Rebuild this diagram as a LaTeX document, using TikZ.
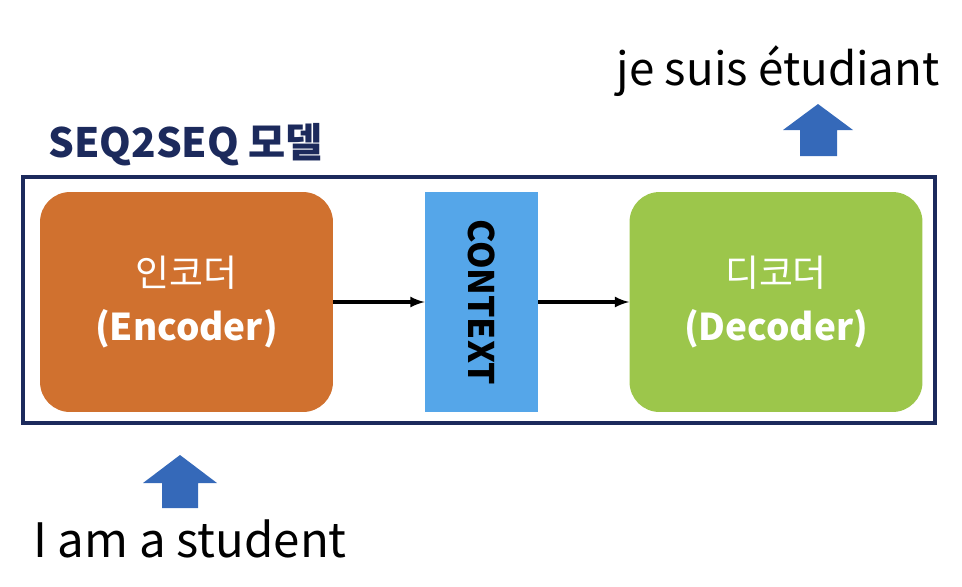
\documentclass[tikz,border=0pt]{standalone}
\usepackage{fontspec}
\setmainfont{Noto Sans CJK KR}
\definecolor{navy}{HTML}{1C2A5C}
\definecolor{encorange}{HTML}{D0712F}
\definecolor{decgreen}{HTML}{9CC64B}
\definecolor{ctxblue}{HTML}{55A6E9}
\definecolor{arrowblue}{HTML}{3569B9}
\tikzset{
  block/.style={rectangle, rounded corners=0.6cm, minimum width=5.86cm, minimum height=4.4cm, text=white, font=\fontsize{21}{31}\selectfont\bfseries, align=center},
  ctxbox/.style={rectangle, fill=ctxblue, minimum width=2.26cm, minimum height=4.4cm},
  link/.style={-latex, line width=1.8pt}
}
\begin{document}
\begin{tikzpicture}[x=0.02cm, y=-0.02cm]
    \useasboundingbox (0,0) rectangle (962,586);
    \draw[navy, line width=2.4pt](23, 177) rectangle (935, 423);
    \node[anchor=base west, inner sep=0pt, text=navy, font=\fontsize{23}{26}\selectfont\bfseries] (title) at (48, 157) {SEQ2SEQ 모델};
    \node[block, fill=encorange] (enc) at (186.5, 302) {{\mdseries 인코더}\\(Encoder)};
    \node[ctxbox] (ctx) at (481.5, 302) {};
    \node[rotate=-90, font=\fontsize{20}{24}\selectfont\bfseries] (ctxlabel) at (ctx.center) {CONTEXT};
    \node[block, fill=decgreen] (dec) at (776, 302) {{\mdseries 디코더}\\(Decoder)};
    \draw[link](enc)--(ctx);
    \draw[link](ctx)--(dec);
    \fill[arrowblue](162, 508)--(162, 483)--(143, 483)--(180, 455)--(217, 483)--(198, 483)--(198, 508)--cycle;
    \fill[arrowblue](800, 156)--(800, 130)--(783, 130)--(818, 104)--(853, 130)--(837, 130)--(837, 156)--cycle;
    \node[anchor=base west, inner sep=0pt, font=\fontsize{27}{30}\selectfont] (src) at (33, 557) {I am a student};
    \node[anchor=base east, inner sep=0pt, font=\fontsize{26}{30}\selectfont] (tgt) at (940, 85) {je suis étudiant};
\end{tikzpicture}
\end{document}
